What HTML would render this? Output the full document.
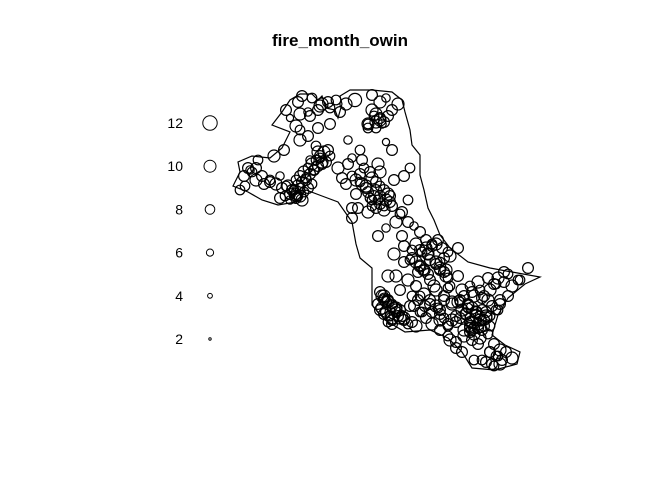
<!DOCTYPE html>
<html><head><meta charset="utf-8"><style>
body{margin:0;background:#fff;}
svg{display:block;font-family:"Liberation Sans",Arial,sans-serif;}
</style></head><body>
<svg id="chart" width="672" height="480" viewBox="0 0 672 480">
<rect width="672" height="480" fill="#fff"/>
<text x="340" y="46" text-anchor="middle" font-size="17" font-weight="bold">fire_month_owin</text>
<polygon fill="none" stroke="#000" stroke-width="1.2"
points="272,125 282,112 290,100 300,94 312,94 318,100 322,96 326,108 335,110 338,118 342,104 340,96 350,90 372,90 392,92 402,100 405,112 410,130 412,145 420,155 420,175 424,190 428,208 434,220 440,235 450,248 468,262 490,268 512,272 540,277 525,284 508,298 498,315 492,335 505,345 520,352 517,364 495,370 472,368 462,352 448,338 430,330 405,332 385,320 372,305 372,282 372,268 360,258 356,244 352,222 338,202 322,196 306,190 296,202 278,205 262,200 248,192 233,186 240,172 238,162 252,156 270,158 282,148 290,132"/>
<g id="legend"></g>
<g id="points"></g>
</svg>
<script>
const legendValues=[12,10,8,6,4,2];
const xs=[298,312,322,308,290,300,318,355,372,380,386,376,392,368,382,398,348,360,392,410,404,352,362,378,386,402,408,394,380,258,250,262,245,270,280,286,292,298,290,276,306,314,320,326,318,310,330,322,300,296,338,348,352,360,346,366,376,372,380,384,390,368,358,356,400,408,396,414,420,416,402,412,404,386,378,394,410,420,426,432,428,436,440,424,418,408,416,430,446,450,458,462,470,478,488,496,504,512,520,460,452,444,438,432,474,482,466,470,480,490,500,498,508,472,464,456,448,440,382,386,394,380,390,398,404,392,384,412,418,424,430,422,414,434,444,452,460,468,476,484,486,478,470,480,472,488,494,464,456,448,440,432,426,420,410,400,396,490,498,506,512,482,492,500,478,474,462,456,450,308,300,316,284,274,240,256,330,342,352,388,404,420,446,518,528,448,436,458,368,374,352,
312,316,320,324,328,314,318,322,310,306,302,298,294,290,296,300,304,308,244,252,248,256,264,270,282,288,294,296,300,304,308,312,296,302,285,280,
372,376,380,384,388,374,378,368,362,366,370,380,386,390,372,376,384,392,360,356,364,370,
376,380,384,372,368,388,436,442,448,432,428,438,422,426,444,450,430,440,
380,384,388,392,378,382,386,390,396,400,404,408,412,416,402,396,392,388,
468,472,476,480,484,478,474,470,466,462,486,490,482,476,470,460,464,468,472,480,484,488,492,496,500,490,494,498,504,508,
456,452,448,444,440,436,430,420,425,440,490,496,502,500,494,486,380,376,310,320,328,336,340,346,330,318,296,286,300,302,
384,388,392,396,384,392,400,476,480,484,472,478,486,470,474,482,420,424,428,416,412,440,444,448,436,458,462,406,410,418];
const ys=[102,98,104,112,118,130,128,100,95,102,98,122,110,128,124,104,140,150,150,168,176,158,160,164,142,212,200,180,172,160,170,176,186,182,176,186,190,196,200,184,180,170,158,162,152,160,156,164,188,196,168,164,176,182,184,186,190,200,196,206,202,212,208,194,214,222,222,226,232,244,236,250,246,228,236,254,260,250,248,244,254,262,270,270,272,280,286,280,270,286,276,290,286,282,278,284,272,286,280,300,304,296,308,312,296,298,314,322,320,316,300,310,296,330,330,322,326,314,296,302,308,310,316,316,318,324,300,296,300,294,304,312,306,286,300,302,318,308,312,320,316,328,328,338,340,334,344,336,342,336,330,324,318,312,306,290,276,352,356,352,358,360,364,350,344,360,352,348,340,136,140,146,150,156,190,168,124,178,208,276,262,266,276,280,268,288,290,248,124,116,218,
164,160,156,152,150,170,166,162,174,178,182,186,190,194,180,176,172,168,176,172,168,180,184,180,188,186,190,194,196,192,188,184,198,200,196,198,
178,182,186,190,194,196,200,192,184,188,198,204,200,196,206,208,210,206,174,180,168,172,
114,118,122,110,124,116,244,248,252,246,254,240,252,240,258,256,260,262,
292,296,300,304,304,308,312,316,312,318,320,324,322,326,316,308,320,322,
304,308,312,316,320,324,328,318,314,310,312,326,330,316,326,302,296,306,292,290,296,300,306,310,304,290,284,278,282,274,
316,320,324,318,310,306,300,296,306,320,352,356,360,364,366,362,120,128,116,106,102,100,112,104,108,110,126,110,114,96,
298,302,306,310,314,318,310,314,320,326,322,328,318,332,334,310,266,270,274,262,258,268,272,278,264,302,308,262,258,272];
const months=[9,8,10,7,6,8,9,11,9,10,7,10,9,8,7,10,7,8,9,8,9,7,9,10,6,9,8,9,10,8,7,9,8,9,7,8,9,8,7,10,9,9,8,9,10,7,8,9,8,9,10,9,8,8,9,10,9,8,9,8,9,10,9,9,8,9,10,7,9,10,9,8,9,7,9,10,8,9,10,8,9,10,9,8,9,10,9,9,10,8,9,10,8,10,9,8,9,10,8,9,10,9,8,9,10,9,10,9,10,8,9,8,9,9,10,9,8,9,10,9,10,9,8,9,10,9,9,8,9,10,9,8,9,10,9,10,9,8,10,9,10,9,9,10,9,8,9,10,9,8,9,10,9,8,9,9,10,9,8,9,10,8,9,10,9,8,9,9,10,9,10,8,9,10,8,9,9,9,9,10,9,10,10,8,9,8,10,
9,10,8,9,10,8,9,10,9,8,9,10,9,8,9,10,8,9,8,9,10,8,9,8,9,10,9,8,9,10,8,9,10,8,9,8,
9,10,8,9,10,9,8,9,10,9,8,9,10,9,8,9,10,9,8,9,10,9,
9,10,8,9,10,9,9,10,8,9,10,9,8,9,10,9,8,9,
9,10,9,8,9,10,9,8,9,10,9,8,9,10,9,8,9,10,
9,10,9,8,9,10,9,8,9,10,9,8,9,10,9,8,9,10,9,8,9,10,9,8,9,10,9,8,9,10,
9,10,9,8,9,10,9,8,9,10,9,8,9,10,9,8,9,10,8,9,10,8,9,10,9,8,9,10,8,9,
10,9,10,9,8,10,9,10,9,10,9,8,10,9,10,9,10,9,10,9,8,10,9,10,9,10,9,8,9,10];
const NS="http://www.w3.org/2000/svg";
function rScale(m){return m*0.6;}
const lg=document.getElementById('legend');
legendValues.forEach((v,i)=>{
  const y=123+i*43.2;
  const t=document.createElementNS(NS,'text');
  
  
  t.setAttribute('x',183);t.setAttribute('y',y+5);t.setAttribute('text-anchor','end');t.setAttribute('font-size','14');
  t.textContent=v;lg.appendChild(t);
  const c=document.createElementNS(NS,'circle');
  
  
  c.setAttribute('cx',210);c.setAttribute('cy',y);c.setAttribute('r',rScale(v));
  c.setAttribute('fill','none');c.setAttribute('stroke','#000');lg.appendChild(c);
});
const pg=document.getElementById('points');
xs.forEach((x,i)=>{
  const c=document.createElementNS(NS,'circle');
  
  
  c.setAttribute('cx',x);c.setAttribute('cy',ys[i]);c.setAttribute('r',rScale(months[i]));
  c.setAttribute('fill','none');c.setAttribute('stroke','#000');c.setAttribute('stroke-width','1.2');
  pg.appendChild(c);
});
</script>
</body></html>
